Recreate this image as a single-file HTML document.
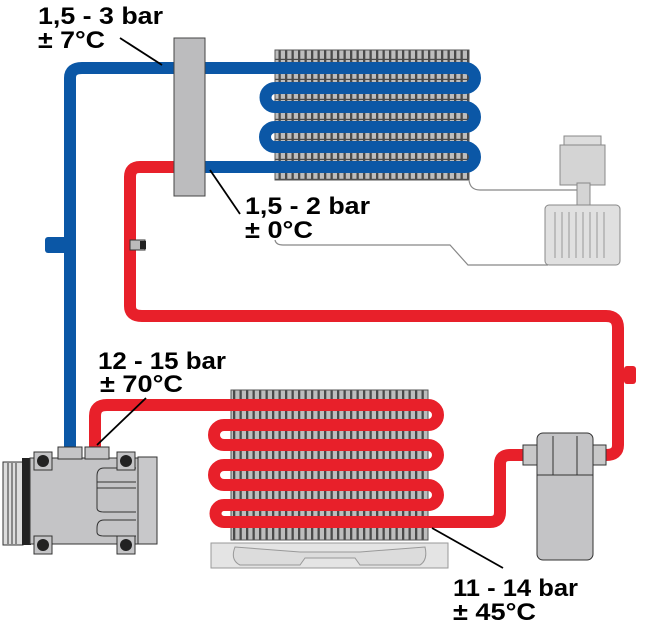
<!DOCTYPE html>
<html><head><meta charset="utf-8"><style>
html,body{margin:0;padding:0;background:#fff;width:645px;height:625px;overflow:hidden}
svg{display:block}
text{font-family:"Liberation Sans",sans-serif;font-weight:bold;font-size:24px;fill:#000}
</style></head><body>
<svg width="645" height="625" viewBox="0 0 645 625" xmlns="http://www.w3.org/2000/svg">
<defs>
<pattern id="fin" x="0" y="0" width="6.5" height="20" patternUnits="userSpaceOnUse">
<rect width="6.5" height="20" fill="#4a4a4a"/>
<rect x="1.3" y="0" width="4.2" height="18.8" fill="#bdbdbd"/>
</pattern>
<pattern id="fin2" x="0" y="5" width="6.5" height="20" patternUnits="userSpaceOnUse">
<rect width="6.5" height="20" fill="#4a4a4a"/>
<rect x="1.3" y="0" width="4.2" height="18.8" fill="#bdbdbd"/>
</pattern>
</defs>
<rect x="275" y="50" width="194" height="130" fill="url(#fin)" stroke="#555" stroke-width="1"/>
<rect x="231" y="390" width="197" height="150" fill="url(#fin2)" stroke="#555" stroke-width="1"/>
<rect x="211" y="543" width="237" height="25" fill="#e4e4e4" stroke="#999"/>
<path d="M235 547 Q230 560 240 565 L300 565 L305 558 L355 558 L360 565 L420 565 Q428 560 425 547 L360 552 L300 552 Z" fill="#dcdcdc" stroke="#999"/>
<path d="M469 180 Q470 190 480 190 L580 190" fill="none" stroke="#888" stroke-width="1.2"/>
<path d="M275 240 Q276 245 283 245 L450 245 L468 265 L548 265" fill="none" stroke="#888" stroke-width="1.2"/>
<g fill="none" stroke="#0b57a6" stroke-width="12" stroke-linejoin="round">
<path d="M70 450 L70 78 Q70 68 82 68 L465 68 A10 10 0 0 1 465 88 L275 88 A9.5 9.5 0 0 0 275 107 L465 107 A10 10 0 0 1 465 127 L275 127 A10 10 0 0 0 275 147 L465 147 A10 10 0 0 1 465 167 L205 167"/>
</g>
<rect x="45" y="237" width="22" height="16" rx="3" fill="#0b57a6"/>
<g fill="none" stroke="#e8202a" stroke-width="12" stroke-linejoin="round">
<path d="M174 167 L140 167 Q130 167 130 177 L130 306 Q130 316 142 316 L606 316 Q618 316 618 328 L618 445 Q618 455 606 455 L598 455"/>
<path d="M95 448 L95 416 Q95 405 107 405 L428 405 A10 10 0 0 1 428 425 L224 425 A10 10 0 0 0 224 445 L428 445 A10 10 0 0 1 428 465 L224 465 A10 10 0 0 0 224 485 L428 485 A10 10 0 0 1 428 505 L224 505 A8.5 8.5 0 0 0 224 522 L490 522 Q500 522 500 512 L500 464 Q500 455 510 455 L530 455"/>
</g>
<rect x="624" y="366" width="12" height="18" rx="3" fill="#e8202a"/>
<rect x="130" y="240" width="15" height="10" fill="#bbb" stroke="#333"/>
<rect x="140" y="241" width="6" height="8" fill="#222"/>
<rect x="174" y="38" width="31" height="158" fill="#bcbcbe" stroke="#444"/>
<rect x="564" y="136" width="37" height="10" fill="#ddd" stroke="#888"/>
<rect x="560" y="145" width="45" height="40" fill="#d4d4d4" stroke="#888"/>
<rect x="577" y="183" width="13" height="24" fill="#d4d4d4" stroke="#888"/>
<rect x="545" y="205" width="75" height="60" rx="4" fill="#e0e0e0" stroke="#888"/>
<g stroke="#999"><line x1="555" y1="212" x2="555" y2="258"/><line x1="562" y1="212" x2="562" y2="258"/><line x1="569" y1="212" x2="569" y2="258"/><line x1="576" y1="212" x2="576" y2="258"/><line x1="583" y1="212" x2="583" y2="258"/><line x1="590" y1="212" x2="590" y2="258"/><line x1="597" y1="212" x2="597" y2="258"/><line x1="604" y1="212" x2="604" y2="258"/></g>
<rect x="523" y="445" width="16" height="20" fill="#c8c8c8" stroke="#333"/>
<rect x="592" y="445" width="14" height="20" fill="#c8c8c8" stroke="#333"/>
<rect x="537" y="433" width="56" height="127" rx="6" fill="#c4c4c6" stroke="#333"/>
<line x1="537" y1="475" x2="593" y2="475" stroke="#333"/>
<line x1="553" y1="436" x2="553" y2="475" stroke="#333"/>
<line x1="577" y1="436" x2="577" y2="475" stroke="#333"/>
<rect x="3" y="462" width="20" height="83" fill="#ddd" stroke="#333"/>
<g stroke="#333"><line x1="8" y1="463" x2="8" y2="544"/><line x1="12" y1="463" x2="12" y2="544"/><line x1="16" y1="463" x2="16" y2="544"/></g>
<rect x="22" y="458" width="9" height="87" fill="#222"/>
<rect x="30" y="458" width="108" height="86" fill="#c4c4c6" stroke="#333"/>
<rect x="138" y="457" width="19" height="87" fill="#c8c8ca" stroke="#333"/>
<path d="M136 468 L104 468 Q97 468 97 476 L97 508 Q97 512 104 512 L136 512 M97 482 L136 482 M97 488 L136 488 M136 520 L104 520 Q97 520 97 528 L97 532 Q97 536 104 536 L136 536" fill="none" stroke="#333"/>
<rect x="58" y="447" width="24" height="12" fill="#c4c4c6" stroke="#333"/>
<rect x="85" y="447" width="24" height="12" fill="#c4c4c6" stroke="#333"/>
<g fill="#c4c4c6" stroke="#333"><rect x="34" y="452" width="18" height="18"/><rect x="117" y="452" width="18" height="18"/><rect x="34" y="536" width="18" height="18"/><rect x="117" y="536" width="18" height="18"/></g>
<g fill="#222"><circle cx="43" cy="461" r="6"/><circle cx="126" cy="461" r="6"/><circle cx="43" cy="545" r="6"/><circle cx="126" cy="545" r="6"/></g>
<g stroke="#000" stroke-width="1.8">
<line x1="120" y1="38" x2="162" y2="65"/>
<line x1="210" y1="170" x2="240" y2="214"/>
<line x1="146" y1="398" x2="97" y2="445"/>
<line x1="432" y1="528" x2="503" y2="568"/>
</g>
<text x="38" y="24" textLength="125" lengthAdjust="spacingAndGlyphs">1,5 - 3 bar</text>
<text x="38" y="48" textLength="67" lengthAdjust="spacingAndGlyphs">± 7°C</text>
<text x="245" y="214" textLength="125" lengthAdjust="spacingAndGlyphs">1,5 - 2 bar</text>
<text x="245" y="238" textLength="68" lengthAdjust="spacingAndGlyphs">± 0°C</text>
<text x="98" y="369" textLength="128" lengthAdjust="spacingAndGlyphs">12 - 15 bar</text>
<text x="100" y="392" textLength="83" lengthAdjust="spacingAndGlyphs">± 70°C</text>
<text x="453" y="596" textLength="125" lengthAdjust="spacingAndGlyphs">11 - 14 bar</text>
<text x="453" y="620" textLength="83" lengthAdjust="spacingAndGlyphs">± 45°C</text>
</svg>
</body></html>
